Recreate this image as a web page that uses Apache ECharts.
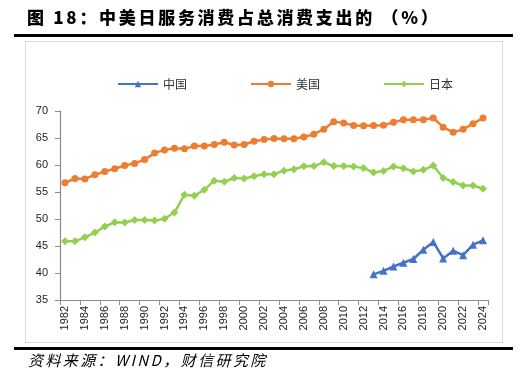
<!DOCTYPE html>
<html>
<head>
<meta charset="utf-8">
<script src="https://cdn.jsdelivr.net/npm/echarts@6/dist/echarts.min.js"></script>
<style>
html,body{margin:0;padding:0;background:#fff;}
#wrap{position:relative;width:526px;height:385px;overflow:hidden;background:#fff;}
#chart{position:absolute;left:0;top:0;width:526px;height:385px;}
.title{position:absolute;left:27px;top:4px;font-family:"Noto Sans CJK SC",sans-serif;font-weight:900;font-size:17px;letter-spacing:2.7px;color:#000;white-space:nowrap;}
.source{position:absolute;left:28px;top:349px;font-family:"Noto Sans CJK SC",serif;font-style:italic;font-size:15px;letter-spacing:2.4px;color:#000;white-space:nowrap;}
.hr{position:absolute;left:14px;width:499px;height:3px;background:#000;}
.frame{position:absolute;left:25px;top:41px;width:476px;height:300px;border:1.5px solid #dcdcdc;}
</style>
</head>
<body>
<div id="wrap">
  <div id="chart"></div>
  <div class="frame"></div>
  <div class="hr" style="top:34px"></div>
  <div class="hr" style="top:347px"></div>
  <div class="title">图 18：中美日服务消费占总消费支出的 （%）</div>
  <div class="source">资料来源：WIND，财信研究院</div>
</div>
<script>
// Categories
const years = [];
for (let y = 1982; y <= 2024; y++) years.push(String(y));

// Series values
const usValues = [56.7, 57.5, 57.4, 58.2, 58.8, 59.3, 59.9, 60.3, 61.0, 62.2,
  62.8, 63.1, 63.0, 63.5, 63.5, 63.8, 64.2, 63.7, 63.8, 64.4,
  64.7, 64.9, 64.85, 64.85, 65.2, 65.7, 66.6, 68.0, 67.8, 67.3,
  67.25, 67.3, 67.35, 67.9, 68.4, 68.4, 68.4, 68.7, 67.0, 66.05,
  66.6, 67.65, 68.7];
const jpValues = [45.9, 45.9, 46.6, 47.5, 48.6, 49.4, 49.35, 49.8, 49.8, 49.7,
  50.05, 51.2, 54.5, 54.3, 55.4, 57.1, 56.9, 57.6, 57.5, 57.9,
  58.3, 58.3, 58.95, 59.2, 59.75, 59.8, 60.5, 59.8, 59.8, 59.7,
  59.45, 58.6, 58.9, 59.7, 59.4, 58.8, 59.1, 59.9, 57.6, 56.85,
  56.2, 56.2, 55.6];
const cnYears = ['2013','2014','2015','2016','2017','2018','2019','2020','2021','2022','2023','2024'];
const cnValuesRaw = [39.75, 40.4, 41.2, 41.9, 42.6, 44.3, 45.75, 42.7, 44.1, 43.3, 45.25, 46.05];

// Y axis ticks
const yMin = 35, yMax = 70, yStep = 5;

const cnValues = years.map(y => {
  const i = cnYears.indexOf(y);
  return i >= 0 ? cnValuesRaw[i] : null;
});

const chart = echarts.init(document.getElementById('chart'), null, {renderer: 'canvas'});
const axisColor = '#8c8c8c';
const labelFont = 'Liberation Sans, Arial, sans-serif';
chart.setOption({
  animation: false,
  backgroundColor: 'transparent',
  grid: {left: 60, right: 38, top: 111, bottom: 85, containLabel: false},
  legend: {
    left: 112, top: 73,
    itemWidth: 40, itemHeight: 8, itemGap: 63,
    textStyle: {fontFamily: '"Noto Sans CJK SC", sans-serif', fontSize: 12, color: '#333'},
    data: ['中国', '美国', '日本']
  },
  xAxis: {
    type: 'category',
    data: years,
    boundaryGap: true,
    axisLine: {lineStyle: {color: axisColor, width: 1.2}},
    axisTick: {show: true, interval: 1, length: 5, lineStyle: {color: axisColor}},
    axisLabel: {interval: 1, rotate: 90, fontSize: 11, color: '#222', fontFamily: labelFont, margin: 6}
  },
  yAxis: {
    type: 'value',
    min: yMin, max: yMax, interval: yStep,
    axisLine: {show: true, lineStyle: {color: axisColor, width: 1.2}},
    axisTick: {show: true, length: 5, lineStyle: {color: axisColor}},
    splitLine: {show: false},
    axisLabel: {fontSize: 11, color: '#222', fontFamily: labelFont, margin: 12}
  },
  series: [
    {
      name: '中国', type: 'line', data: cnValues,
      symbol: 'triangle', symbolSize: 8, showAllSymbol: true,
      lineStyle: {color: '#4472C4', width: 2.5},
      itemStyle: {color: '#4472C4'}
    },
    {
      name: '美国', type: 'line', data: usValues,
      symbol: 'circle', symbolSize: 7, showAllSymbol: true,
      lineStyle: {color: '#ED7D31', width: 2.5},
      itemStyle: {color: '#ED7D31'}
    },
    {
      name: '日本', type: 'line', data: jpValues,
      symbol: 'diamond', symbolSize: 8, showAllSymbol: true,
      lineStyle: {color: '#92D050', width: 2.5},
      itemStyle: {color: '#92D050'}
    }
  ]
});
</script>
</body>
</html>
